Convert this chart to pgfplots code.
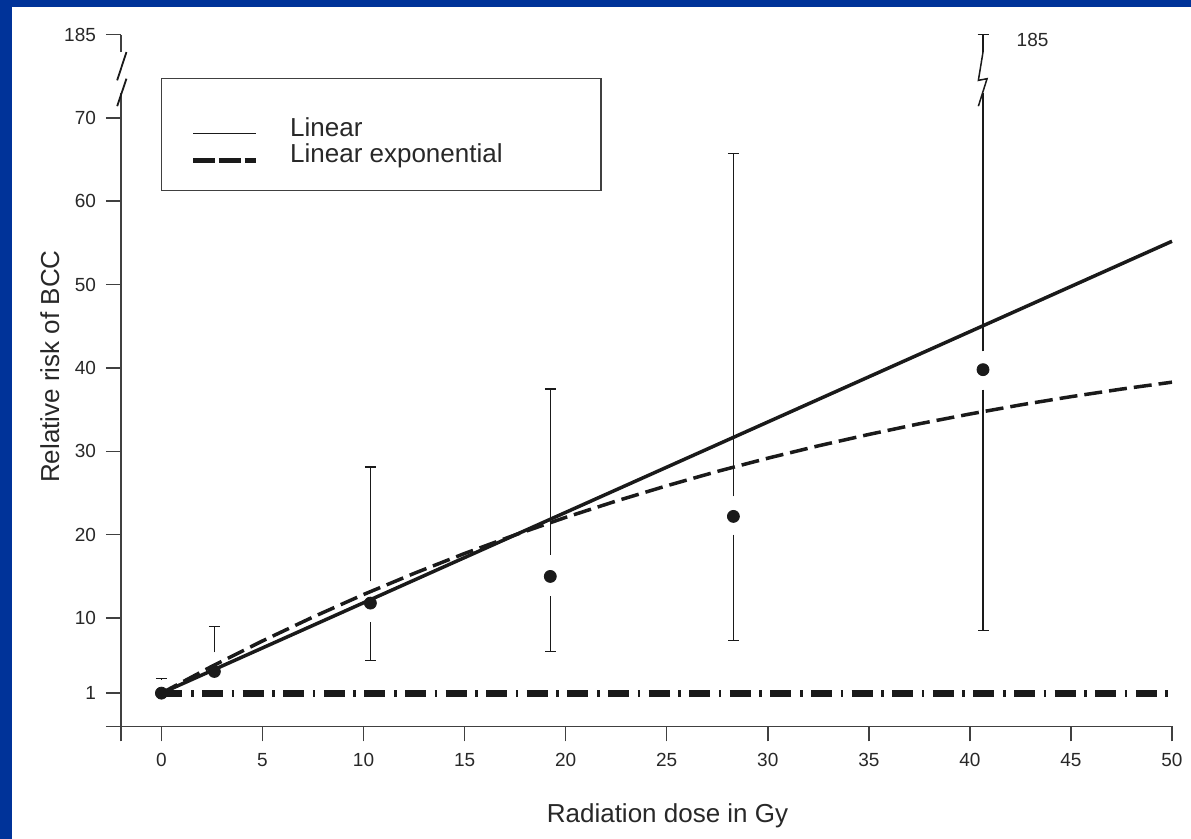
\documentclass[border=0pt]{standalone}
\usepackage{pgfplots}
\pgfplotsset{compat=1.18}
\usepackage{fontspec}
\setmainfont{Liberation Sans}
\definecolor{bgblue}{RGB}{0,51,153}
\definecolor{axgray}{RGB}{64,64,64}
\definecolor{txt}{RGB}{40,40,40}
\definecolor{ink}{RGB}{26,26,26}
\begin{document}
\begin{tikzpicture}
\useasboundingbox (0,0) rectangle (595.5pt,419.5pt);
\fill[bgblue] (0,0) rectangle (595.5pt,419.5pt);
\fill[white] (6pt,0) rectangle (595.5pt,416pt);
\begin{axis}[
  at={(60.5pt,56.25pt)}, anchor=south west,
  scale only axis, width=525.5pt, height=346pt,
  xmin=-2, xmax=50, ymin=-3, ymax=80,
  axis lines=left,
  axis line style={-, axgray, line width=0.75pt},
  y axis line style={draw=none},
  xtick={-2,0,5,10,15,20,25,30,35,40,45,50},
  xticklabels={,0,5,10,15,20,25,30,35,40,45,50},
  ytick={-3,1,10,20,30,40,50,60,70,80},
  yticklabels={,1,10,20,30,40,50,60,70,185},
  tick align=outside, major tick length=7.5pt,
  tick style={axgray, line width=0.75pt},
  ticklabel style={font=\fontsize{9.5}{11}\selectfont, text=txt},
  xticklabel style={yshift=-2.5pt},
  yticklabel style={xshift=-1.5pt},
  /pgf/number format/assume math mode=true,
  xlabel={Radiation dose in Gy}, ylabel={Relative risk of BCC},
  label style={font=\fontsize{13}{15}\selectfont, text=txt},
  xlabel style={at={(axis description cs:0.52,-0.1286)}, anchor=center},
  ylabel style={at={(axis description cs:-0.0676,0.52)}, anchor=center},
  clip=false,
  ebar/.style={draw=none, mark=none, forget plot,
    error bars/y explicit,
    error bars/error bar style={draw=ink, solid, line width=0.75pt},
    error bars/error mark options={draw=ink, solid, line width=0.75pt, mark size=2.75pt, rotate=90}},
]
% reference line RR = 1
\addplot[ink, line width=3.5pt, dash pattern=on 10.5pt off 4.3pt on 1.3pt off 4.2pt] coordinates {(0,1) (50,1)};
% linear model
\addplot[ink, line width=1.75pt] coordinates {(0,1) (50,55.2)};
% linear exponential model
\addplot[ink, line width=1.75pt, dash pattern=on 9pt off 3.5pt] coordinates {
(0,1) (2.5,4.22) (5,7.26) (7.5,10.13) (10,12.83) (12.5,15.36) (15,17.75) (17.5,19.98) (20,22.08) (22.5,24.04) (25,25.87) (27.5,27.59) (30,29.18) (32.5,30.66) (35,32.03) (37.5,33.31) (40,34.48) (42.5,35.57) (45,36.56) (47.5,37.47) (50,38.30)};
% upper error bar segments (with cap)
\addplot[ebar, error bars/y dir=plus]
coordinates {(0,2.6) +- (0,0.15) (2.62,5.9) +- (0,3.1) (10.34,14.4) +- (0,13.7) (19.24,17.6) +- (0,19.9) (28.3,24.6) +- (0,41.1) (40.65,77.9) +- (0,2.1)};
% lower error bar segments (with cap)
\addplot[ebar, error bars/y dir=minus]
coordinates {(10.34,9.5) +- (0,4.6) (19.24,12.6) +- (0,6.6) (28.3,20.0) +- (0,12.7) (40.65,37.4) +- (0,28.9)};
% upper segment below the break (no cap)
\addplot[ebar, error bars/y dir=plus, error bars/error mark=none]
coordinates {(40.65,42.0) +- (0,31.0)};
% observed relative risks
\addplot[ink, only marks, mark=*, mark size=3pt] coordinates {(0,1.0) (2.62,3.6) (10.34,11.8) (19.24,15.0) (28.3,22.2) (40.65,39.8)};
% broken y axis
\draw[axgray, line width=0.75pt] (axis cs:-2,-3) -- (axis cs:-2,73.0);
\draw[axgray, line width=0.75pt] (axis cs:-2,77.9) -- (axis cs:-2,80);
\draw[ink, line width=0.9pt] (axis cs:-2.19,74.5) -- (axis cs:-1.73,77.9);
\draw[ink, line width=0.9pt] (axis cs:-2.19,71.4) -- (axis cs:-1.73,74.7);
% break in the last error bar
\draw[ink, line width=0.75pt] (axis cs:40.65,77.9) -- (axis cs:40.42,74.5) -- (axis cs:40.85,74.7) -- (axis cs:40.42,71.4);
\node[font=\fontsize{9.5}{11}\selectfont, text=txt] at (axis cs:43.1,79.4) {185};
% legend
\draw[axgray, line width=0.75pt] (axis cs:0,61.3) rectangle (axis cs:21.76,74.7);
\draw[ink, line width=0.6pt] (axis cs:1.58,68.1) -- (axis cs:4.70,68.1);
\draw[ink, line width=2.2pt, dash pattern=on 10.8pt off 2pt] (axis cs:1.58,64.9) -- (axis cs:4.70,64.9);
\node[anchor=west, inner sep=0pt, font=\fontsize{13}{15}\selectfont, text=txt] at (axis cs:6.35,68.9) {Linear};
\node[anchor=west, inner sep=0pt, font=\fontsize{13}{15}\selectfont, text=txt] at (axis cs:6.35,65.5) {Linear exponential};
\end{axis}
\end{tikzpicture}
\end{document}
